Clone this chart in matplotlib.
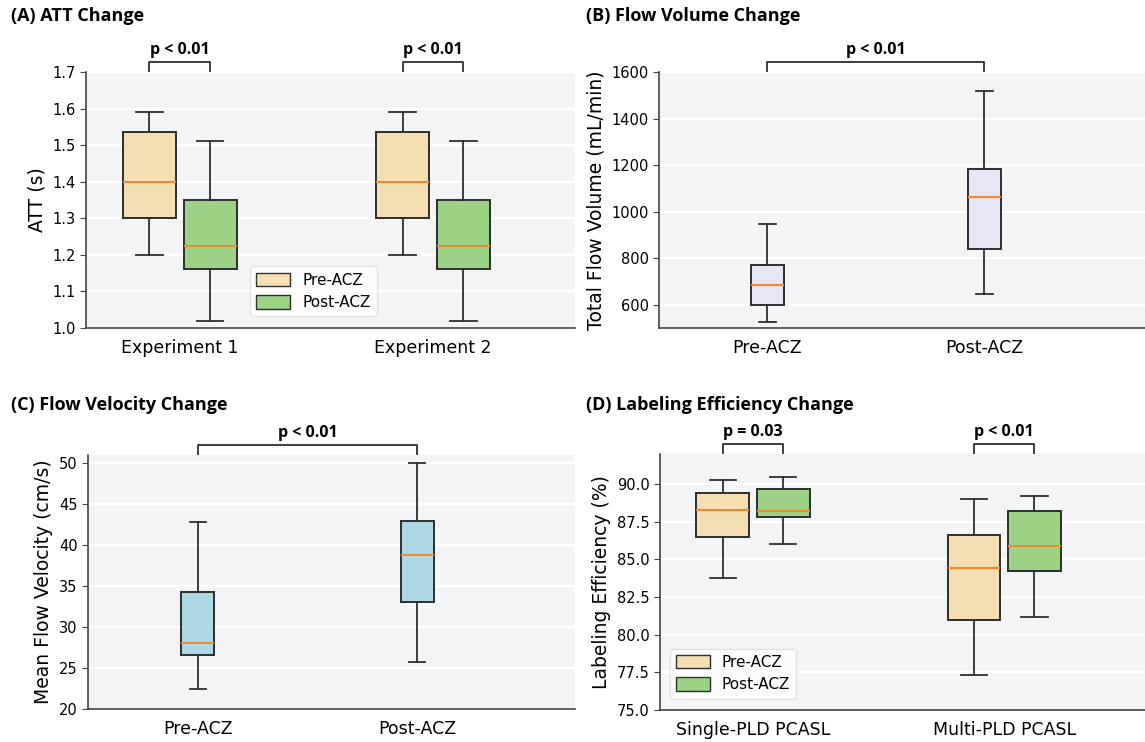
import matplotlib
matplotlib.use("Agg")
import matplotlib.pyplot as plt
import matplotlib.transforms as mtransforms
from matplotlib.patches import Patch

# ---- data ----
# box stats: (whislo, q1, med, q3, whishi)
att_groups = ["Experiment 1", "Experiment 2"]
att_pre = [(1.20, 1.30, 1.40, 1.535, 1.59), (1.20, 1.30, 1.40, 1.535, 1.59)]
att_post = [(1.02, 1.16, 1.225, 1.35, 1.51), (1.02, 1.16, 1.225, 1.35, 1.51)]
att_p = ["p < 0.01", "p < 0.01"]

flow_labels = ["Pre-ACZ", "Post-ACZ"]
flow_vol = [(525, 600, 683, 770, 948), (645, 840, 1063, 1183, 1517)]
flow_vol_p = "p < 0.01"

flow_vel = [(22.4, 26.6, 28.1, 34.3, 42.8), (25.8, 33.1, 38.8, 43.0, 50.0)]
flow_vel_p = "p < 0.01"

le_groups = ["Single-PLD PCASL", "Multi-PLD PCASL"]
le_pre = [(83.8, 86.5, 88.3, 89.4, 90.3), (77.3, 81.0, 84.4, 86.6, 89.0)]
le_post = [(86.0, 87.8, 88.2, 89.7, 90.5), (81.2, 84.2, 85.9, 88.2, 89.2)]
le_p = ["p = 0.03", "p < 0.01"]

PRE_C = "#f5deb3"
POST_C = "#9bd286"
VOL_C = "#e6e6f7"
VEL_C = "#add8e6"
EDGE = "#2e2e2e"
MED = "#f5872a"
BG = "#f3f4f6"

plt.rcParams["font.family"] = "DejaVu Sans"
TITLE_FONT = dict(family="Open Sans", weight="bold", size=13)
P_FONT = dict(family="Open Sans", weight="bold", size=11.5)


def stats(vals):
    lo, q1, med, q3, hi = vals
    return dict(whislo=lo, q1=q1, med=med, q3=q3, whishi=hi, fliers=[])


def draw_boxes(ax, data, positions, width, color):
    ax.bxp([stats(v) for v in data], positions=positions, widths=width,
           patch_artist=True, showfliers=False, manage_ticks=False,
           boxprops=dict(facecolor=color, edgecolor=EDGE, linewidth=1.4),
           whiskerprops=dict(color=EDGE, linewidth=1.3),
           capprops=dict(color=EDGE, linewidth=1.3),
           medianprops=dict(color=MED, linewidth=1.5))


def bracket(ax, x1, x2, text):
    trans = mtransforms.blended_transform_factory(ax.transData, ax.transAxes)
    ax.plot([x1, x1, x2, x2], [1.004, 1.04, 1.04, 1.004], color=EDGE,
            lw=1.3, transform=trans, clip_on=False)
    ax.text((x1 + x2) / 2, 1.055, text, ha="center", va="bottom",
            transform=trans, **P_FONT)


def style(ax):
    ax.set_facecolor(BG)
    ax.grid(axis="y", color="white", linewidth=1.6)
    ax.set_axisbelow(True)
    for s in ["top", "right"]:
        ax.spines[s].set_visible(False)
    for s in ["left", "bottom"]:
        ax.spines[s].set_color("#444444")
        ax.spines[s].set_linewidth(1.2)
    ax.tick_params(axis="y", labelsize=10.5, length=4, color="#444444")
    ax.tick_params(axis="x", labelsize=12.5, length=0, pad=8)


fig = plt.figure(figsize=(11.45, 7.42), dpi=100)
axA = fig.add_axes([0.0751, 0.558, 0.427, 0.345])
axB = fig.add_axes([0.5755, 0.558, 0.4245, 0.345])
axC = fig.add_axes([0.0769, 0.0445, 0.4253, 0.342])
axD = fig.add_axes([0.5764, 0.0431, 0.4236, 0.345])

off, bw = 0.12, 0.21
legend_handles = [Patch(facecolor=PRE_C, edgecolor=EDGE, label="Pre-ACZ"),
                  Patch(facecolor=POST_C, edgecolor=EDGE, label="Post-ACZ")]

# (A) ATT
style(axA)
xs = list(range(len(att_groups)))
draw_boxes(axA, att_pre, [x - off for x in xs], bw, PRE_C)
draw_boxes(axA, att_post, [x + off for x in xs], bw, POST_C)
axA.set_xticks(xs)
axA.set_xticklabels(att_groups)
axA.set_xlim(-0.37, 1.56)
axA.set_ylim(1.0, 1.7)
axA.set_ylabel("ATT (s)", fontsize=13.5)
for x, p in zip(xs, att_p):
    bracket(axA, x - off, x + off, p)
axA.legend(handles=legend_handles, loc="lower left", bbox_to_anchor=(0.32, 0.015),
           fontsize=11, frameon=True, facecolor="white", edgecolor="#dddddd",
           handlelength=2.2, handleheight=1.0)

# (B) Flow volume
style(axB)
draw_boxes(axB, flow_vol, [1, 2], 0.15, VOL_C)
axB.set_xticks([1, 2])
axB.set_xticklabels(flow_labels)
axB.set_xlim(0.5, 2.74)
axB.set_ylim(500, 1600)
axB.set_yticks([600, 800, 1000, 1200, 1400, 1600])
axB.set_ylabel("Total Flow Volume (mL/min)", fontsize=13.5)
bracket(axB, 1, 2, flow_vol_p)

# (C) Flow velocity
style(axC)
draw_boxes(axC, flow_vel, [1, 2], 0.15, VEL_C)
axC.set_xticks([1, 2])
axC.set_xticklabels(flow_labels)
axC.set_xlim(0.5, 2.72)
axC.set_ylim(20, 51)
axC.set_yticks([20, 25, 30, 35, 40, 45, 50])
axC.set_ylabel("Mean Flow Velocity (cm/s)", fontsize=13.5)
bracket(axC, 1, 2, flow_vel_p)

# (D) Labeling efficiency
style(axD)
xs = list(range(len(le_groups)))
draw_boxes(axD, le_pre, [x - off for x in xs], bw, PRE_C)
draw_boxes(axD, le_post, [x + off for x in xs], bw, POST_C)
axD.set_xticks(xs)
axD.set_xticklabels(le_groups)
axD.set_xlim(-0.37, 1.56)
axD.set_ylim(75, 92)
le_ticks = [75.0, 77.5, 80.0, 82.5, 85.0, 87.5, 90.0]
axD.set_yticks(le_ticks)
axD.set_yticklabels([f"{v:.1f}" for v in le_ticks])
axD.set_ylabel("Labeling Efficiency (%)", fontsize=13.5)
for x, p in zip(xs, le_p):
    bracket(axD, x - off, x + off, p)
axD.legend(handles=legend_handles, loc="lower left", bbox_to_anchor=(0.005, 0.015),
           fontsize=11, frameon=True, facecolor="white", edgecolor="#dddddd",
           handlelength=2.2, handleheight=1.0)

# panel titles
fig.text(0.010, 0.978, "(A) ATT Change", ha="left", va="center", **TITLE_FONT)
fig.text(0.512, 0.978, "(B) Flow Volume Change", ha="left", va="center", **TITLE_FONT)
fig.text(0.010, 0.454, "(C) Flow Velocity Change", ha="left", va="center", **TITLE_FONT)
fig.text(0.512, 0.454, "(D) Labeling Efficiency Change", ha="left", va="center", **TITLE_FONT)

fig.savefig("out.png", dpi=100, facecolor="white")
